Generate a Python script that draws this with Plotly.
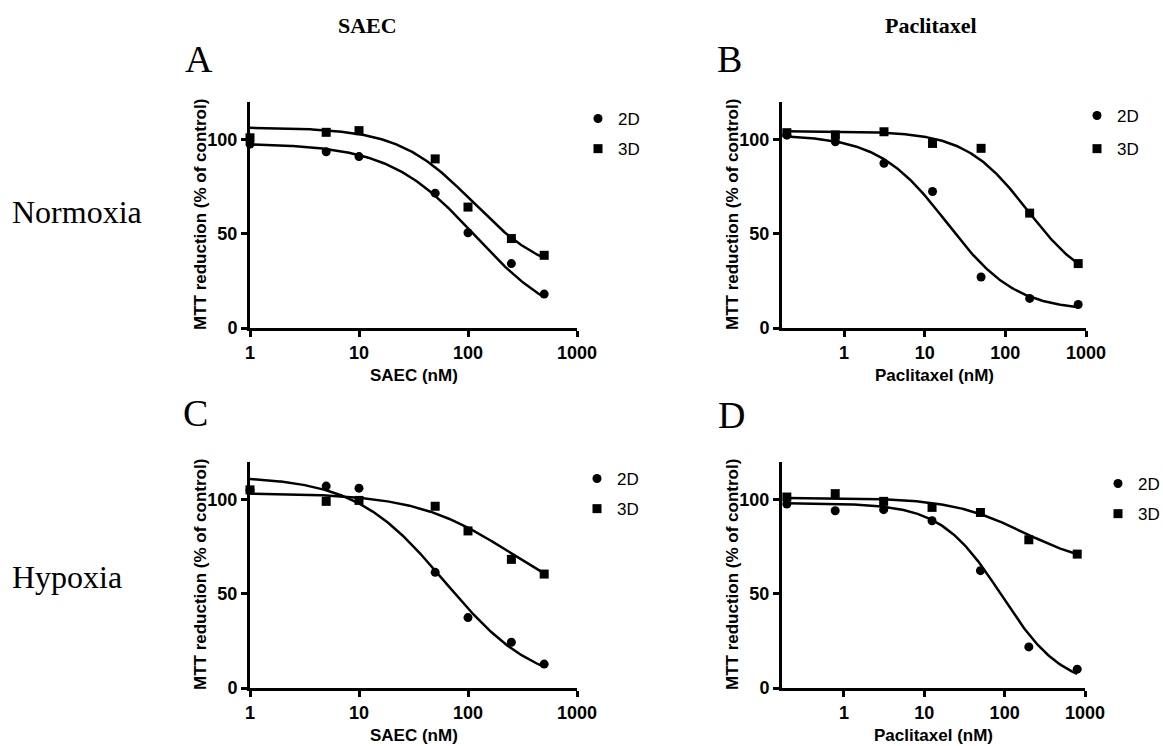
import numpy as np
import plotly.graph_objects as go

# ---------------- data ----------------
saec_conc = [1, 5, 10, 50, 100, 250, 500]            # nM
ptx_conc = [0.195, 0.78, 3.125, 12.5, 50, 200, 800]  # nM

# MTT reduction (% of control)
a_2d = [97.7, 93.6, 91.0, 71.6, 50.6, 34.2, 18.0]
a_3d = [101.0, 103.9, 104.8, 89.8, 64.2, 47.5, 38.6]
b_2d = [102.4, 98.9, 87.5, 72.5, 27.1, 15.7, 12.5]
b_3d = [103.7, 102.5, 104.2, 98.0, 95.4, 61.0, 34.2]
c_2d = [105.0, 107.2, 106.1, 61.4, 37.4, 24.3, 12.7]
c_3d = [105.2, 99.1, 99.6, 96.5, 83.4, 68.3, 60.5]
d_2d = [97.7, 94.1, 94.7, 88.8, 62.3, 21.8, 10.0]
d_3d = [101.4, 103.2, 99.1, 95.9, 93.2, 78.7, 71.1]

# fitted 4-parameter logistic curves: [top, bottom, IC50, hill]
fit_a_2d = [98.0, 0.0, 116.0, 1.10]
fit_a_3d = [106.5, 27.0, 111.0, 1.27]
fit_b_2d = [102.5, 9.0, 18.9, 1.02]
fit_b_3d = [104.5, 20.0, 190.0, 1.12]
fit_c_2d = [112.5, 0.0, 61.6, 1.05]
fit_c_3d = [103.5, 40.0, 245.0, 1.00]
fit_d_2d = [98.2, 0.0, 92.0, 1.15]
fit_d_3d = [101.0, 64.0, 174.0, 0.95]

series_names = ["2D", "3D"]
x_tick_vals = [1, 10, 100, 1000]
x_tick_text = ["1", "10", "100", "1000"]
y_tick_vals = [0, 50, 100]
y_tick_text = ["0", "50", "100"]
col_titles = ["SAEC", "Paclitaxel"]
row_titles = ["Normoxia", "Hypoxia"]
panel_letters = ["A", "B", "C", "D"]
x_titles = ["SAEC (nM)", "Paclitaxel (nM)", "SAEC (nM)", "Paclitaxel (nM)"]
y_title = "MTT reduction (% of control)"

# ---------------- layout geometry ----------------
W, H = 1163, 746
SANS = "Liberation Sans, Arial, sans-serif"
SERIF = "Liberation Serif, Times New Roman, serif"

panels = [
    dict(conc=saec_conc, y2=a_2d, y3=a_3d, f2=fit_a_2d, f3=fit_a_3d,
         px=(250, 577), py=(102, 328), xr=[0, 3], leg=(578, 101), gap=5),
    dict(conc=ptx_conc, y2=b_2d, y3=b_3d, f2=fit_b_2d, f3=fit_b_3d,
         px=(782, 1086), py=(102, 328), xr=[-0.77, 3], leg=(1077, 98), gap=8),
    dict(conc=saec_conc, y2=c_2d, y3=c_3d, f2=fit_c_2d, f3=fit_c_3d,
         px=(250, 577), py=(462, 688), xr=[0, 3], leg=(577, 461), gap=5),
    dict(conc=ptx_conc, y2=d_2d, y3=d_3d, f2=fit_d_2d, f3=fit_d_3d,
         px=(782, 1085), py=(462, 688), xr=[-0.77, 3], leg=(1098, 466), gap=5),
]


def logistic(x, p):
    top, bottom, ic50, hill = p
    x = np.asarray(x, dtype=float)
    return bottom + (top - bottom) / (1.0 + (x / ic50) ** hill)


fig = go.Figure()
layout = dict(
    width=W, height=H,
    margin=dict(l=0, r=0, t=0, b=0, autoexpand=False),
    paper_bgcolor="white", plot_bgcolor="white", showlegend=True,
    annotations=[],
)

for i, p in enumerate(panels):
    n = "" if i == 0 else str(i + 1)
    xa, ya = "x" + n, "y" + n
    leg = "legend" + n
    xs = np.logspace(np.log10(p["conc"][0]), np.log10(p["conc"][-1]), 200)
    for fitp in (p["f2"], p["f3"]):
        fig.add_trace(go.Scatter(
            x=xs, y=logistic(xs, fitp), mode="lines", xaxis=xa, yaxis=ya,
            line=dict(color="black", width=2.5), showlegend=False,
            hoverinfo="skip", cliponaxis=False))
    for name, yv, sym in ((series_names[0], p["y2"], "circle"),
                          (series_names[1], p["y3"], "square")):
        fig.add_trace(go.Scatter(
            x=p["conc"], y=yv, mode="markers", name=name, xaxis=xa, yaxis=ya,
            marker=dict(symbol=sym, size=9, color="black"),
            legend=leg, legendgroup=name + n, cliponaxis=False))

    x0, x1 = p["px"]
    y0, y1 = p["py"]
    layout["xaxis" + n] = dict(
        domain=[x0 / W, x1 / W], anchor=ya, type="log", range=p["xr"],
        showgrid=False, zeroline=False, showline=True, linecolor="black",
        linewidth=3, ticks="outside", ticklen=6, tickwidth=3, tickcolor="black",
        tickvals=x_tick_vals, ticktext=x_tick_text,
        tickfont=dict(family=SANS, size=18, color="black", weight="bold"),
        fixedrange=True)
    layout["yaxis" + n] = dict(
        domain=[1 - y1 / H, 1 - y0 / H], anchor=xa, range=[0, 120],
        showgrid=False, zeroline=False, showline=True, linecolor="black",
        linewidth=3, ticks="outside", ticklen=6, tickwidth=3, tickcolor="black",
        tickvals=y_tick_vals, ticktext=y_tick_text,
        tickfont=dict(family=SANS, size=18, color="black", weight="bold"),
        fixedrange=True)
    lx, ly = p["leg"]
    layout[leg] = dict(
        x=lx / W, y=1 - ly / H, xanchor="left", yanchor="top",
        bgcolor="rgba(0,0,0,0)", traceorder="grouped", tracegroupgap=p["gap"],
        font=dict(family=SANS, size=17, color="black"))

    # axis titles
    layout["annotations"].append(dict(
        text=x_titles[i], x=(x0 + x1) / 2 / W, y=1 - (y1 + 47) / H,
        xref="paper", yref="paper", showarrow=False, xanchor="center",
        yanchor="middle",
        font=dict(family=SANS, size=17, color="black", weight="bold")))
    layout["annotations"].append(dict(
        text=y_title, x=(x0 - 50) / W, y=1 - (y0 + y1) / 2 / H,
        xref="paper", yref="paper", showarrow=False, textangle=-90,
        xanchor="center", yanchor="middle",
        font=dict(family=SANS, size=17, color="black", weight="bold")))

# panel letters
letter_pos = [(199, 59), (729, 59), (195, 413), (731, 415)]
for t, (lx, ly) in zip(panel_letters, letter_pos):
    layout["annotations"].append(dict(
        text=t, x=lx / W, y=1 - ly / H, xref="paper", yref="paper",
        showarrow=False, xanchor="center", yanchor="middle",
        font=dict(family=SERIF, size=38, color="black")))

# column titles
for t, cx in zip(col_titles, (367, 931)):
    layout["annotations"].append(dict(
        text="<b>" + t + "</b>", x=cx / W, y=1 - 25 / H, xref="paper",
        yref="paper", showarrow=False, xanchor="center", yanchor="middle",
        font=dict(family=SERIF, size=22, color="black")))

# row titles
for t, cy in zip(row_titles, (212, 577)):
    layout["annotations"].append(dict(
        text=t, x=10 / W, y=1 - cy / H, xref="paper", yref="paper",
        showarrow=False, xanchor="left", yanchor="middle",
        font=dict(family=SERIF, size=32, color="black")))

fig.update_layout(**layout)
fig.write_html(
    "out.html",
    config={"displayModeBar": False, "staticPlot": True},
    post_script="document.body.style.margin='0px';"
                "document.body.style.overflow='hidden';",
)
